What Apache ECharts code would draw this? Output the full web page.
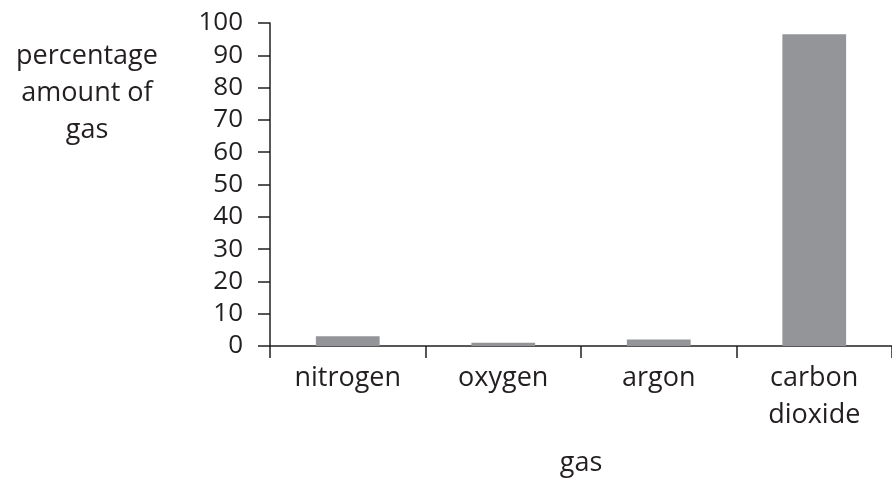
<!DOCTYPE html>
<html><head><meta charset="utf-8">
<script src="https://cdn.jsdelivr.net/npm/echarts@6/dist/echarts.min.js"></script>
<style>html,body{margin:0;padding:0;background:#fff}#c{width:892px;height:482px}</style>
</head><body><div id="c"></div>
<script>
const categories = ['nitrogen', 'oxygen', 'argon', 'carbon\ndioxide'];
const values = [3, 1, 2, 96.5];
const yTicks = [0, 10, 20, 30, 40, 50, 60, 70, 80, 90, 100];
const yName = 'percentage\namount of\ngas';
const xName = 'gas';

const ink = '#231f20';
const font = 'Open Sans';
const fs = 26;
const chart = echarts.init(document.getElementById('c'));
chart.setOption({
  animation: false,
  grid: { left: 270, right: -4, top: 23, bottom: 134 },
  xAxis: {
    type: 'category', data: categories, boundaryGap: true,
    name: xName, nameLocation: 'middle', nameGap: 104,
    nameTextStyle: { color: ink, fontSize: 27, fontFamily: font },
    axisLine: { lineStyle: { color: ink, width: 1.5 } },
    axisTick: { show: true, length: 12, lineStyle: { color: ink, width: 1.5 } },
    axisLabel: { color: ink, fontSize: 27, fontFamily: font, margin: 14, lineHeight: 37 }
  },
  yAxis: {
    type: 'value', min: yTicks[0], max: yTicks[yTicks.length - 1], interval: 10,
    splitLine: { show: false },
    axisLine: { show: true, lineStyle: { color: ink, width: 1.5 } },
    axisTick: { show: true, length: 12, lineStyle: { color: ink, width: 1.5 } },
    axisLabel: { color: ink, fontSize: fs, fontFamily: font, margin: 27 }
  },
  graphic: [{
    type: 'text', x: 87, y: 93,
    style: { text: yName, fill: ink, fontSize: 27, fontFamily: font,
      align: 'center', verticalAlign: 'middle', lineHeight: 37 }
  }],
  series: [{
    type: 'bar', data: values, barWidth: '41%',
    itemStyle: { color: '#939598' }
  }]
});
</script></body></html>
